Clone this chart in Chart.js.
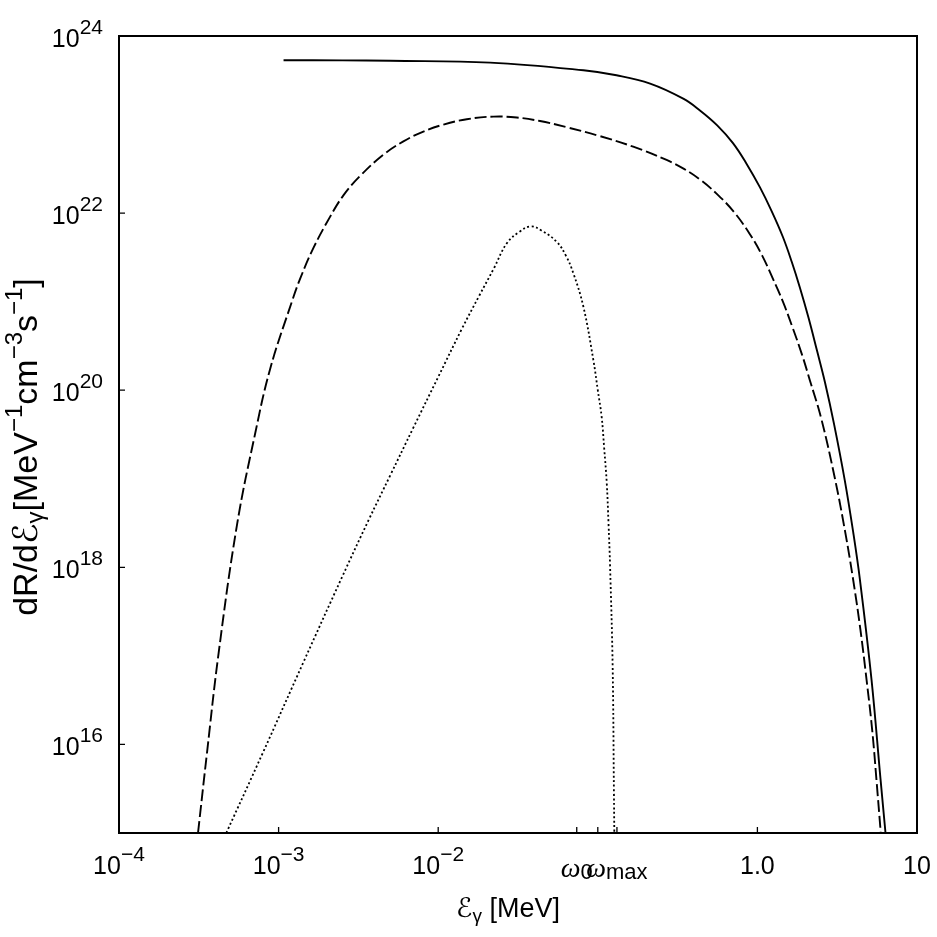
<!DOCTYPE html>
<html><head><meta charset="utf-8">
<script src="https://cdn.jsdelivr.net/npm/chart.js@4.4.0/dist/chart.umd.min.js"></script>
<style>html,body{margin:0;padding:0;background:#fff;} #wrap{width:937px;height:937px;}</style>
</head><body><div id="wrap"><canvas id="c" width="937" height="937"></canvas></div>
<script>
// ---- data ----
const solidX = [1.074e-3, 2.51e-3, 5.01e-3, 0.02113, 0.0813, 0.131, 0.2128, 0.343, 0.4365, 0.560, 0.703, 0.860, 1.038, 1.230, 1.445, 1.641, 1.845, 2.089, 2.36, 2.65, 3.020, 3.53, 3.981, 4.39, 5.19, 5.90, 6.35];
const solidY = [5.32e23, 5.31e23, 5.25e23, 5.01e23, 4.10e23, 3.60e23, 2.90e23, 1.96e23, 1.445e23, 9.8e22, 6.17e22, 3.55e22, 1.95e22, 1.047e22, 5.37e21, 2.82e21, 1.445e21, 6.61e20, 2.82e20, 1.23e20, 4.17e19, 9.55e18, 2.51e18, 7.24e17, 5.37e16, 4.17e15, 1.0e15];

const dashedX = [3.126e-4, 3.556e-4, 4.207e-4, 5.50e-4, 7.13e-4, 8.85e-4, 1.211e-3, 1.365e-3, 1.656e-3, 2.104e-3, 2.547e-3, 3.243e-3, 4.539e-3, 6.053e-3, 8.072e-3, 0.01079, 0.01510, 0.02218, 0.03105, 0.04345, 0.06383, 0.1030, 0.1667, 0.2698, 0.3467, 0.4365, 0.5546, 0.7079, 0.8995, 1.0715, 1.250, 1.445, 1.667, 1.905, 2.133, 2.512, 3.062, 3.548, 3.981, 4.416, 4.831, 5.248, 5.572, 5.93];
const dashedY = [1.0e15, 7.94e15, 1.07e17, 3.09e18, 3.24e19, 1.74e20, 1.0e21, 1.82e21, 4.07e21, 9.12e21, 1.585e22, 2.63e22, 4.57e22, 6.46e22, 8.32e22, 1.0e23, 1.148e23, 1.23e23, 1.20e23, 1.096e23, 9.33e22, 7.41e22, 5.62e22, 3.98e22, 3.16e22, 2.40e22, 1.66e22, 1.047e22, 5.75e21, 3.31e21, 1.82e21, 1.0e21, 5.01e20, 2.51e20, 1.29e20, 4.79e19, 1.0e19, 2.51e18, 7.24e17, 2.0e17, 5.37e16, 1.41e16, 3.98e15, 1.0e15];

const dottedX = [4.70e-4, 7.94e-4, 1.432e-3, 2.512e-3, 3.656e-3, 5.01e-3, 7.00e-3, 0.01, 0.01413, 0.01811, 0.02239, 0.02692, 0.03236, 0.0380, 0.04467, 0.05534, 0.0631, 0.07031, 0.0813, 0.0938, 0.1, 0.1057, 0.1096, 0.1138, 0.1167, 0.1194, 0.1239, 0.1262, 0.1269];
const dottedY = [1.0e15, 7.94e15, 8.51e16, 7.94e17, 3.39e18, 1.096e19, 3.80e19, 1.41e20, 5.01e20, 1.175e21, 2.40e21, 4.57e21, 6.17e21, 7.08e21, 6.31e21, 4.73e21, 3.31e21, 2.09e21, 8.71e20, 2.19e20, 1.0e20, 5.01e19, 2.24e19, 8.91e18, 3.16e18, 1.023e18, 7.59e16, 2.8e15, 1.0e15];

const xTickValues = [1e-4, 1e-3, 1e-2, 0.0738, 0.1, 0.1318, 1, 10];
const xTickLabels = ['10^{−4}', '10^{−3}', '10^{−2}', 'ω_{0}', '', 'ω_{max}', '1.0', '10'];
const yTickValues = [1e16, 1e18, 1e20, 1e22, 1e24];
const yTickLabels = ['10^{16}', '10^{18}', '10^{20}', '10^{22}', '10^{24}'];
const xTitle = 'ℰ_{γ} [MeV]';
const yTitle = 'dR/dℰ_{γ}[MeV^{−1}cm^{−3}s^{−1}]';

// ---- rich text helpers ----
function parseRich(s){
  const segs=[]; let i=0; let buf='';
  while(i<s.length){
    const c=s[i];
    if((c==='^'||c==='_') && s[i+1]==='{'){
      if(buf){segs.push({t:buf,k:'n'});buf='';}
      const j=s.indexOf('}',i);
      segs.push({t:s.slice(i+2,j),k:c==='^'?'sup':'sub'});
      i=j+1;
    } else {buf+=c;i++;}
  }
  if(buf)segs.push({t:buf,k:'n'});
  return segs;
}
const SANS='"Liberation Sans", Arial, Helvetica, "DejaVu Sans", sans-serif';
function drawRich(ctx,s,x,y,o){
  const segs=parseRich(s);
  const fontFor=(seg)=>{
    if(seg.k==='n' && seg.t==='ω') return 'italic '+o.greekSize+'px "Liberation Serif", "DejaVu Serif", serif';
    const size = seg.k==='n'?o.size:(seg.k==='sup'?o.sup:o.sub);
    return size+'px '+SANS;
  };
  let w=0; const ws=[];
  segs.forEach(seg=>{ctx.font=fontFor(seg); const m=ctx.measureText(seg.t).width; ws.push(m); w+=m;});
  let cx = o.align==='right'? x-w : (o.align==='center'? x-w/2 : x);
  ctx.textAlign='left'; ctx.textBaseline='alphabetic'; ctx.fillStyle='#000';
  segs.forEach((seg,i)=>{
    ctx.font=fontFor(seg);
    const dy = seg.k==='sup'? -o.rise : (seg.k==='sub'? o.drop : 0);
    ctx.fillText(seg.t,cx,y+dy);
    cx+=ws[i];
  });
}

const framePlugin = {
  id:'frame',
  afterDraw(chart){
    const ctx=chart.ctx, a=chart.chartArea, xs=chart.scales.x, ys=chart.scales.y;
    ctx.save();
    ctx.strokeStyle='#000';
    ctx.setLineDash([]);
    ctx.lineWidth=2;
    ctx.strokeRect(a.left, a.top, a.right-a.left, a.bottom-a.top);
    ctx.lineWidth=1.3;
    ctx.beginPath();
    xTickValues.forEach(v=>{const px=xs.getPixelForValue(v); ctx.moveTo(px,a.bottom); ctx.lineTo(px,a.bottom-6);});
    yTickValues.forEach(v=>{const py=ys.getPixelForValue(v); ctx.moveTo(a.left,py); ctx.lineTo(a.left+6,py);});
    ctx.stroke();
    // x tick labels
    xTickValues.forEach((v,i)=>{
      const lab=xTickLabels[i]; if(!lab) return;
      const px=xs.getPixelForValue(v);
      const isW = lab[0]==='ω';
      drawRich(ctx, lab, px, a.bottom+(isW?44:41), {size:25, sup:21, sub:22, rise:13, drop:2, greekSize:28, align:'center'});
    });
    // y tick labels
    yTickValues.forEach((v,i)=>{
      const py=ys.getPixelForValue(v);
      drawRich(ctx, yTickLabels[i], a.left-16, py+11, {size:25, sup:21, sub:18, rise:13, drop:3, greekSize:28, align:'right'});
    });
    // axis titles
    drawRich(ctx, xTitle, 508, 917, {size:27, sup:19, sub:19, rise:12, drop:5, greekSize:28, align:'center'});
    ctx.save();
    ctx.translate(37, 447);
    ctx.rotate(-Math.PI/2);
    drawRich(ctx, yTitle, 0, 0, {size:34, sup:24, sub:24, rise:15, drop:6, greekSize:28, align:'center'});
    ctx.restore();
    ctx.restore();
  }
};

function pts(xa,ya){ return xa.map((x,i)=>({x:x, y:ya[i]})); }
function line(xa, ya, extra){
  return Object.assign({data:pts(xa,ya), borderColor:'#000', pointRadius:0, borderWidth:1.9, fill:false, tension:0.4}, extra||{});
}
new Chart(document.getElementById('c').getContext('2d'), {
  type:'line',
  data:{datasets:[
    line(solidX, solidY, {label:'total'}),
    line(dashedX, dashedY, {label:'dashed', borderDash:[12,4]}),
    line(dottedX, dottedY, {label:'dotted', borderDash:[2,2.5], borderWidth:1.8})
  ]},
  options:{
    responsive:false, animation:false, devicePixelRatio:1,
    layout:{padding:{left:119, right:20, top:36, bottom:104}},
    plugins:{legend:{display:false}, tooltip:{enabled:false}},
    scales:{
      x:{type:'logarithmic', min:1e-4, max:10, display:false},
      y:{type:'logarithmic', min:1e15, max:1e24, display:false}
    }
  },
  plugins:[framePlugin]
});
</script>
</body></html>
